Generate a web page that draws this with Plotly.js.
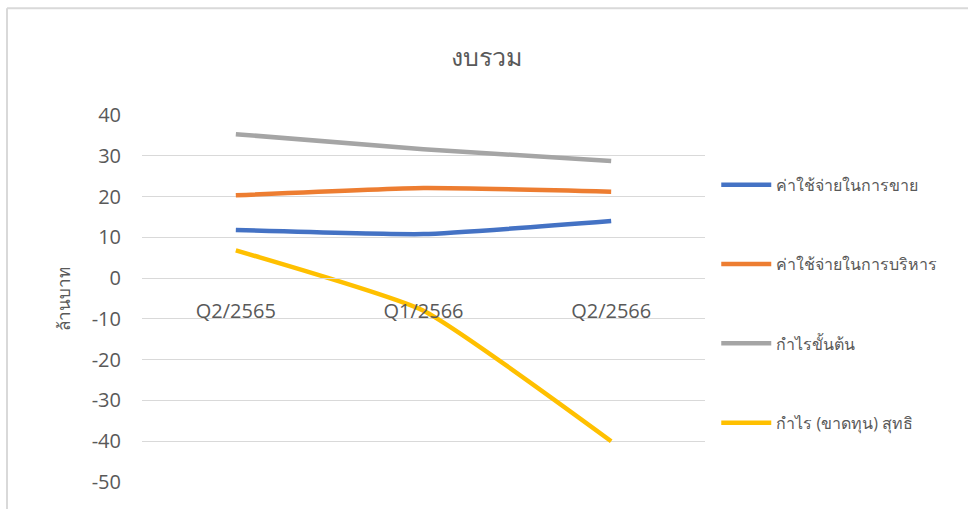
<!DOCTYPE html>
<html>
<head>
<meta charset="utf-8">
<script src="https://cdn.plot.ly/plotly-3.0.1.min.js"></script>
<style>html,body{margin:0;padding:0;background:#fff;}#chart{width:968px;height:509px;}</style>
</head>
<body>
<div id="chart"></div>
<script>
const categories = ["Q2/2565", "Q1/2566", "Q2/2566"];
const seriesNames = ["ค่าใช้จ่ายในการขาย", "ค่าใช้จ่ายในการบริหาร", "กำไรขั้นต้น", "กำไร (ขาดทุน) สุทธิ"];
const sellingExpense = [11.8, 10.8, 14.0];
const adminExpense = [20.3, 22.1, 21.2];
const grossProfit = [35.3, 31.6, 28.7];
const netProfit = [6.8, -8.0, -40.0];
const yTicks = [40, 30, 20, 10, 0, -10, -20, -30, -40, -50];
const colors = ["#4472C4", "#ED7D31", "#A5A5A5", "#FFC000"];

const allValues = [sellingExpense, adminExpense, grossProfit, netProfit];
const traces = allValues.map((vals, i) => ({
  type: "scatter",
  mode: "lines",
  x: categories,
  y: vals,
  name: seriesNames[i],
  legendgroup: "g" + i,
  line: {color: colors[i], width: 4.5, shape: "spline", smoothing: 0.45}
}));

const textColor = "#595959";
const baseFont = "'Open Sans', 'Noto Sans', sans-serif";

const layout = {
  width: 968, height: 509,
  paper_bgcolor: "#ffffff", plot_bgcolor: "#ffffff",
  margin: {l: 142, r: 263, t: 115, b: 27, pad: 0},
  font: {family: baseFont, color: textColor},
  title: {text: "งบรวม", x: 0.503, xref: "container", xanchor: "center", y: 0.888, yref: "container", yanchor: "middle",
          font: {size: 25, color: textColor, family: baseFont, weight: 300}},
  xaxis: {
    type: "category", range: [-0.5, 2.5], anchor: "free", position: 50/90,
    showgrid: false, showline: true, linecolor: "#d9d9d9", linewidth: 1,
    ticks: "", ticklabelstandoff: 15, tickfont: {size: 20, color: textColor},
    fixedrange: true
  },
  yaxis: {
    range: [-50, 40], tickvals: yTicks, ticktext: yTicks.map(String),
    showgrid: true, gridcolor: "#d9d9d9", gridwidth: 1.2, zeroline: false,
    showline: false, ticks: "", ticklabelstandoff: 20,
    tickfont: {size: 20, color: textColor},
    title: {text: "ล้านบาท", standoff: 16, font: {size: 17, color: textColor}}
  },
  showlegend: true,
  legend: {
    x: 1.02, xanchor: "left", y: 0.856, yanchor: "top",
    traceorder: "grouped", tracegroupgap: 55.5, itemwidth: 50,
    font: {size: 16, color: textColor}, bgcolor: "rgba(0,0,0,0)"
  },
  shapes: [
    {type: "line", xref: "paper", yref: "paper", x0: -0.2398, x1: 1.5, y0: 1.291, y1: 1.291, line: {color: "#d9d9d9", width: 2}},
    {type: "line", xref: "paper", yref: "paper", x0: -0.2398, x1: -0.2398, y0: 1.291, y1: -0.1, line: {color: "#d9d9d9", width: 2}}
  ]
};

Plotly.newPlot("chart", traces, layout, {displayModeBar: false, staticPlot: true});
</script>
</body>
</html>
